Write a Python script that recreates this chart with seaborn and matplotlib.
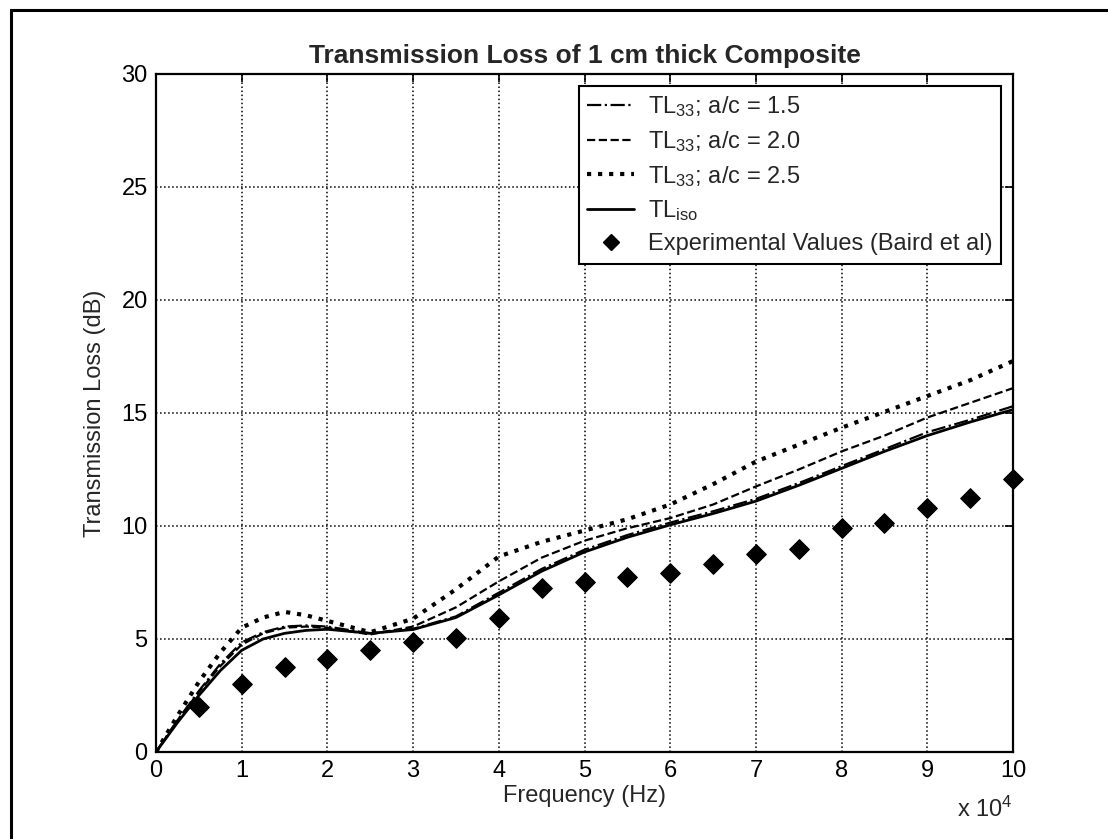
import seaborn as sns
import pandas as pd
import matplotlib.pyplot as plt
from matplotlib.lines import Line2D
from matplotlib.patches import Rectangle

# frequency in units of 1e4 Hz
freq = [0, 0.25, 0.5, 0.75, 1, 1.25, 1.5, 1.75, 2, 2.5, 3, 3.5, 4, 4.5, 5,
        5.5, 6, 6.5, 7, 7.5, 8, 8.5, 9, 9.5, 10]
tl_iso = [0, 1.3, 2.5, 3.6, 4.5, 5.0, 5.25, 5.38, 5.43, 5.25, 5.42, 5.95, 6.95,
          8.0, 8.85, 9.5, 10.05, 10.55, 11.1, 11.8, 12.55, 13.3, 14.0, 14.6, 15.15]
tl_15 = [0, 1.4, 2.7, 3.9, 4.85, 5.3, 5.55, 5.6, 5.55, 5.25, 5.45, 6.0, 7.05,
         8.1, 8.95, 9.6, 10.15, 10.65, 11.2, 11.9, 12.65, 13.4, 14.15, 14.7, 15.3]
tl_20 = [0, 1.4, 2.65, 3.8, 4.75, 5.25, 5.5, 5.55, 5.5, 5.2, 5.55, 6.4, 7.55,
         8.6, 9.35, 9.9, 10.35, 10.95, 11.75, 12.5, 13.3, 14.0, 14.8, 15.45, 16.1]
tl_25 = [0, 1.6, 3.1, 4.4, 5.5, 5.95, 6.2, 6.05, 5.8, 5.3, 5.9, 7.2, 8.65,
         9.3, 9.8, 10.3, 10.95, 11.85, 12.85, 13.6, 14.35, 15.05, 15.75, 16.45, 17.3]

exp_freq = [0.5, 1, 1.5, 2, 2.5, 3, 3.5, 4, 4.5, 5, 5.5, 6, 6.5, 7, 7.5, 8,
            8.5, 9, 9.5, 10]
exp_tl = [2.0, 3.0, 3.75, 4.1, 4.5, 4.85, 5.05, 5.95, 7.27, 7.5, 7.75, 7.9,
          8.3, 8.75, 9.0, 9.9, 10.12, 10.8, 11.25, 12.1]

labels = ['TL$_{33}$; a/c = 1.5', 'TL$_{33}$; a/c = 2.0',
          'TL$_{33}$; a/c = 2.5', 'TL$_{iso}$']
styles = ['-.', '--', ':', '-']
widths = [1.6, 1.6, 3.0, 2.0]

sns.set_style('white')
plt.rcParams['font.family'] = ['Liberation Sans', 'DejaVu Sans']
plt.rcParams['mathtext.default'] = 'regular'

fig = plt.figure(figsize=(11.08, 8.39), dpi=100)
ax = fig.add_axes([0.1408, 0.1037, 0.7735, 0.8081])

curves = [tl_15, tl_20, tl_25, tl_iso]
for vals, ls, lw in zip(curves, styles, widths):
    df = pd.DataFrame({'f': freq, 'tl': vals})
    sns.lineplot(data=df, x='f', y='tl', ax=ax, color='black',
                 linestyle=ls, linewidth=lw)

exp_df = pd.DataFrame({'f': exp_freq, 'tl': exp_tl})
sns.scatterplot(data=exp_df, x='f', y='tl', ax=ax, marker='D', s=100,
                color='black', edgecolor='black', zorder=5, clip_on=False)

ax.set_xlim(0, 10)
ax.set_ylim(0, 30)
ax.set_xticks(range(0, 11))
ax.set_yticks(range(0, 31, 5))
ax.grid(True, linestyle=':', color='black', linewidth=1.1)
for s in ax.spines.values():
    s.set_color('black')
    s.set_linewidth(1.6)
ax.tick_params(direction='in', length=6, width=1.2, labelsize=17,
               top=True, right=True, colors='black', pad=6)

ax.set_title('Transmission Loss of 1 cm thick Composite', fontsize=19,
             fontweight='bold', pad=8)
ax.set_xlabel('Frequency (Hz)', fontsize=17, labelpad=2)
ax.set_ylabel('Transmission Loss (dB)', fontsize=17, labelpad=11)
ax.text(1.0, -0.085, 'x 10$^4$', transform=ax.transAxes, ha='right',
        va='center', fontsize=17)

handles = [Line2D([], [], color='black', linestyle=ls, linewidth=lw)
           for ls, lw in zip(styles, widths)]
handles.append(Line2D([], [], color='black', marker='D', linestyle='none',
                      markersize=8))
leg = ax.legend(handles, labels + ['Experimental Values (Baird et al)'],
                loc='upper right', fontsize=17, frameon=True, fancybox=False,
                edgecolor='black', framealpha=1, handlelength=2.0,
                handletextpad=0.6, labelspacing=0.42, borderaxespad=0.5,
                borderpad=0.35)
leg.get_frame().set_linewidth(1.5)

fig.patches.append(Rectangle((11 / 1108, -0.05), 1.2, 1 - 10 / 839 + 0.05,
                             transform=fig.transFigure, fill=False,
                             edgecolor='black', linewidth=2.2))

fig.savefig('out.png', dpi=100)
